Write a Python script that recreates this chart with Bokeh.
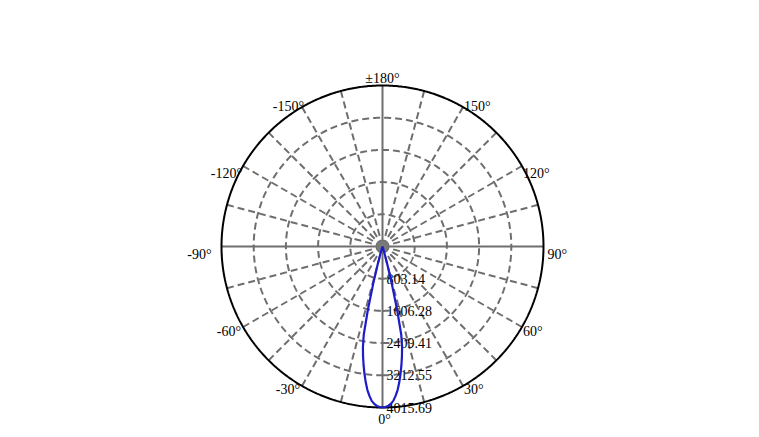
import numpy as np
from bokeh.plotting import figure
from bokeh.core.properties import value
from bokeh.embed import file_html
from bokeh.resources import INLINE

# ---- data ----
angles_deg = [0, 1, 2, 3, 4, 5, 6, 7, 8, 9, 10, 11, 12, 13, 14, 15, 16, 17, 18, 20, 25, 30, 45, 60, 90, 120, 150, 180]
intensity = [4015.69, 4005, 3980, 3930, 3860, 3740, 3600, 3420, 3220, 3010, 2790, 2560, 2250, 1620, 960,
             460, 190, 70, 25, 8, 0, 0, 0, 0, 0, 0, 0, 0]
ring_values = [803.14, 1606.28, 2409.41, 3212.55, 4015.69]
angle_ticks = [180, 150, 120, 90, 60, 30, 0, -30, -60, -90, -120, -150]
angle_labels = ["±180°", "150°", "120°", "90°", "60°", "30°", "0°", "-30°", "-60°", "-90°", "-120°", "-150°"]
spoke_angles = list(range(-165, 181, 15))

RMAX = ring_values[-1]
R_PX = 161.0
k = RMAX / R_PX  # data units per pixel

W, H = 743, 429
CX, CY = 382, 246  # centre in figure pixels (from top-left)

p = figure(width=W, height=H, output_backend="svg", toolbar_location=None,
           x_range=(-CX * k, (W - CX) * k), y_range=(-(H - CY) * k, CY * k),
           min_border=0, background_fill_color="white", border_fill_color="white")
p.axis.visible = False
p.xgrid.visible = False
p.ygrid.visible = False
p.outline_line_color = None


def pol(r, deg):
    t = np.radians(deg)
    return r * np.sin(t), -r * np.cos(t)


GRID = "#6e6e6e"
# spokes
for a in spoke_angles:
    x1, y1 = pol(RMAX, a)
    solid = a % 90 == 0
    p.line([0, x1], [0, y1], line_color=GRID, line_width=2,
           line_dash="solid" if solid else "7 4")

# dashed rings
th = np.linspace(0, 360, 721)
for rv in ring_values[:-1]:
    xs, ys = pol(rv, th)
    p.line(xs, ys, line_color=GRID, line_width=2, line_dash="7 4")

# outer ring
xs, ys = pol(RMAX, th)
p.line(xs, ys, line_color="black", line_width=2)

# centre dot
p.scatter([0], [0], size=11, fill_color="#7a7a7a", line_color="#7a7a7a")

FONT = value("Liberation Serif")
# ring labels
rx, ry = [4 * k] * len(ring_values), [-v for v in ring_values]
p.text(rx, ry, text=[f"{v:.2f}" for v in ring_values], text_font=FONT,
       text_font_size="14px", text_color="black", text_align="left", text_baseline="middle")

# angle labels
off = {180: (0, -7), 150: (1, -1), 120: (1, 7), 90: (4, 8), 60: (1, 4), 30: (1, 4), 0: (2, 12),
       -30: (-2, 4), -60: (-2, 4), -90: (-10, 8), -120: (-1, 7), -150: (2, -1)}
for a, lab in zip(angle_ticks, angle_labels):
    x, y = pol(RMAX, a)
    s = np.sin(np.radians(a))
    align = "left" if s > 0.01 else ("right" if s < -0.01 else "center")
    dx, dy = off[a]
    p.text([x], [y], text=[lab], text_font=FONT, text_font_size="14px",
           text_color="black", text_align=align, text_baseline="middle", x_offset=dx, y_offset=dy)

# intensity curve (symmetric)
full_ang = [-a for a in angles_deg[::-1]] + angles_deg[1:]
full_int = intensity[::-1] + intensity[1:]
cxs, cys = pol(np.array(full_int), np.array(full_ang, dtype=float))
p.line(cxs, cys, line_color="#1c1cc8", line_width=2.2)

open("out.html", "w").write(file_html(p, INLINE))
